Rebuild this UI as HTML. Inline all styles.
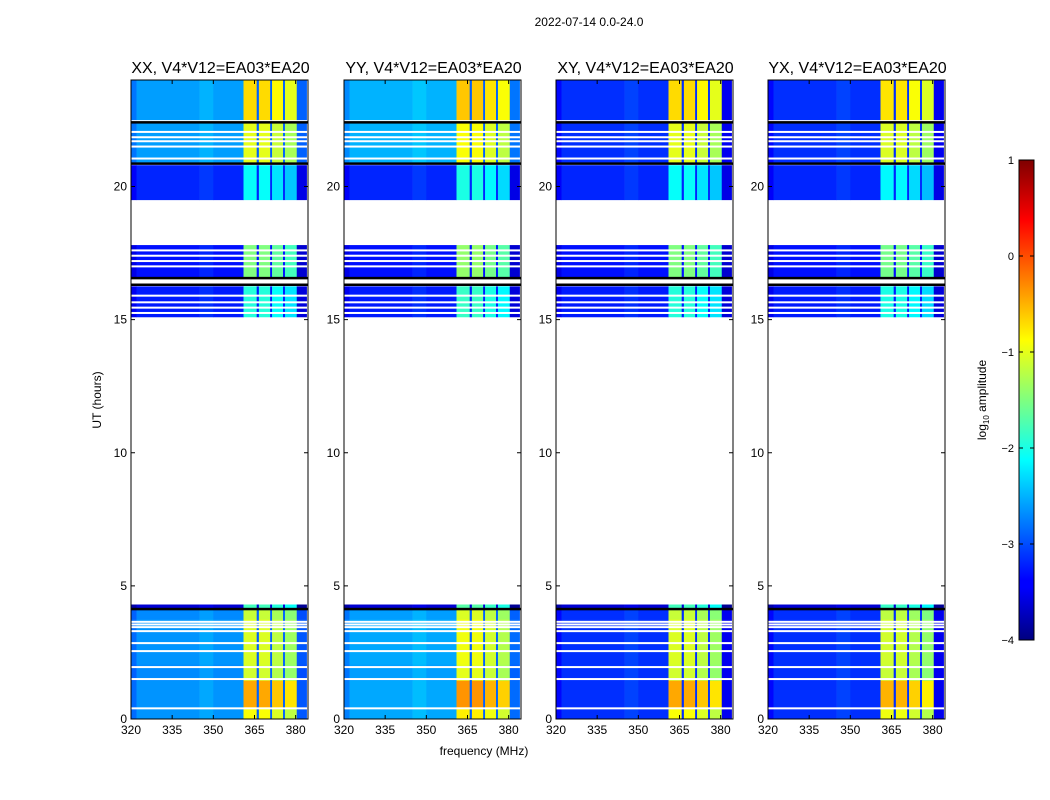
<!DOCTYPE html>
<html><head><meta charset="utf-8"><style>
body{margin:0;background:#fff;}
svg{display:block;font-family:"Liberation Sans",sans-serif;}
</style></head><body>
<svg id="fig" width="1050" height="800" viewBox="0 0 1050 800">
<text x="589" y="26" font-size="12" text-anchor="middle">2022-07-14 0.0-24.0</text>
<text x="484" y="755" font-size="12" text-anchor="middle">frequency (MHz)</text>
<text transform="translate(101,400) rotate(-90)" font-size="12" text-anchor="middle">UT (hours)</text>
<defs><linearGradient id="jet" x1="0" y1="1" x2="0" y2="0">
<stop offset="0" stop-color="#00007f"/><stop offset="0.11" stop-color="#0000ff"/><stop offset="0.125" stop-color="#0000ff"/>
<stop offset="0.375" stop-color="#00ffff"/><stop offset="0.625" stop-color="#ffff00"/><stop offset="0.875" stop-color="#ff0000"/><stop offset="1" stop-color="#7f0000"/>
</linearGradient></defs>
<g>
<rect x="1019" y="160" width="15" height="480" fill="url(#jet)" stroke="#000" stroke-width="1"/>
<g id="cbticks"></g>
<text transform="translate(986,400) rotate(-90)" font-size="12" text-anchor="middle">log<tspan font-size="8" dy="3">10</tspan><tspan dy="-3"> amplitude</tspan></text>
</g>
<g id="panels"></g>
</svg>
<script>
const panelTitles=["XX, V4*V12=EA03*EA20","YY, V4*V12=EA03*EA20","XY, V4*V12=EA03*EA20","YX, V4*V12=EA03*EA20"];
const panelLeft=[131,344,556,768];
const panelBandShift=[0,0.1,0,-0.05];
// frequency channel edges (MHz) and relative profile
const chanEdges=[320,322,345,350,361,365.8,366.6,370.7,371.4,375.4,376.1,380.4,384];
const chanType=["bg","bg","bg","bg","band","gap","band","gap","band","gap","band","edge"];
const chanOffset=[-0.2,0,0.1,0,0,0,0,0,-0.15,0,-0.3,-0.4];
const xTicks=[320,335,350,365,380];
const yTicks=[0,5,10,15,20];
const cbTicks=[1,0,-1,-2,-3,-4];
// time segments: start, end (hours), background level, band level
const segStart=[0,0.45,1.45,2.05,3.75,4.1,15.1,16.6,19.5,20.85,22.5];
const segEnd=[0.45,1.45,2.05,3.75,4.1,4.3,16.25,17.8,20.8,22.4,24];
const segBg=[-2.65,-2.65,-2.7,-2.65,-2.7,-3.6,-3.25,-3.3,-3.2,-2.6,-2.6];
const segBand=[-0.9,-0.45,-1.1,-1.05,-1.15,-1.8,-1.95,-1.5,-2.1,-1.0,-0.7];
const whiteLines=[0.4,1.5,1.95,2.55,2.85,3.3,3.45,3.55,3.65,15.25,15.45,15.65,15.9,16.4,17.0,17.2,17.4,17.6,21.05,21.5,21.7,21.85,22.05,22.45];
const blackLines=[4.12,16.3,16.55,22.4,20.85];
const X0=320,X1=384.5,Y0=0,Y1=24,W=177,TOP=80,BOT=719;
function yS(t){return BOT-(t-Y0)/(Y1-Y0)*(BOT-TOP);}
function jet(v){let t=Math.max(0,Math.min(1,(v+4)/5));
 const f=(a)=>Math.max(0,Math.min(1,1.5-Math.abs(4*t-a)));
 return `rgb(${Math.round(255*f(3))},${Math.round(255*f(2))},${Math.round(255*f(1))})`;}
const NS="http://www.w3.org/2000/svg";
function el(tag,attrs,parent){const e=document.createElementNS(NS,tag);for(const k in attrs)e.setAttribute(k,attrs[k]);parent.appendChild(e);return e;}
const root=document.getElementById('panels');
panelTitles.forEach((title,p)=>{
 const L=panelLeft[p];
 const xS=f=>L+(f-X0)/(X1-X0)*W;
 const g=el('g',{},root);
 
 
 for(let s=0;s<segStart.length;s++){
  for(let c=0;c<chanType.length;c++){
   let v;const ty=chanType[c];
   let bg=segBg[s];if(p>=2&&bg>-3.15)bg=-3.15;else if(p==1&&bg>-3)bg+=0.1;
   if(ty=="bg")v=bg+chanOffset[c];
   else if(ty=="band")v=segBand[s]+chanOffset[c]+panelBandShift[p];
   else if(ty=="gap")v=Math.min(bg,-2.9);
   else v=bg-0.3;
   const r=el('rect',{x:xS(chanEdges[c]),y:yS(segEnd[s]),width:xS(chanEdges[c+1])-xS(chanEdges[c])+0.3,height:yS(segStart[s])-yS(segEnd[s])+0.3,fill:jet(v)},g);
   
   
  }
 }
 whiteLines.forEach(t=>{const r=el('rect',{x:L,y:yS(t)-1,width:W,height:2,fill:'#fff'},g);
  
  });
 blackLines.forEach(t=>{const r=el('rect',{x:L,y:yS(t)-1.5,width:W,height:2.5,fill:'#000'},g);
  
  });
 const fr=el('rect',{x:L,y:TOP,width:W,height:BOT-TOP,fill:'none',stroke:'#000','stroke-width':1},g);
 
 
 const tt=el('text',{x:L+W/2+1,y:73,'font-size':16,'text-anchor':'middle'},g);tt.textContent=title;
 
 
 xTicks.forEach(f=>{const x=xS(f);el('line',{x1:x,x2:x,y1:BOT,y2:BOT-4,stroke:'#000'},g);el('line',{x1:x,x2:x,y1:TOP,y2:TOP+4,stroke:'#000'},g);
  const t=el('text',{x:x,y:BOT+15,'font-size':12,'text-anchor':'middle'},g);t.textContent=f;
  
  });
 yTicks.forEach(v=>{const y=yS(v);el('line',{x1:L,x2:L+4,y1:y,y2:y,stroke:'#000'},g);el('line',{x1:L+W,x2:L+W-4,y1:y,y2:y,stroke:'#000'},g);
  const t=el('text',{x:L-4,y:y+4,'font-size':12,'text-anchor':'end'},g);t.textContent=v;
  
  });
});
const cb=document.getElementById('cbticks');
cbTicks.forEach(v=>{const y=160+(1-v)/5*480;
 el('line',{x1:1019,x2:1023,y1:y,y2:y,stroke:'#000'},cb);el('line',{x1:1034,x2:1030,y1:y,y2:y,stroke:'#000'},cb);
 const t=el('text',{x:1014,y:y+4,'font-size':11,'text-anchor':'end'},cb);t.textContent=v<0?'\u2212'+(-v):v;
 
 });
</script>
</body></html>
